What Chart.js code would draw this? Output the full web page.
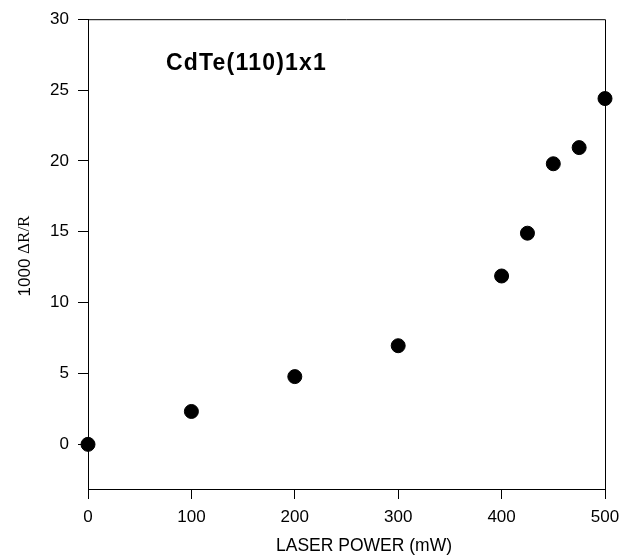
<!DOCTYPE html>
<html><head><meta charset="utf-8">
<script src="https://cdn.jsdelivr.net/npm/chart.js@4.4.1/dist/chart.umd.min.js"></script>
<style>html,body{margin:0;padding:0;background:#fff}#wrap{width:629px;height:558px}</style>
</head><body><div id="wrap"><canvas id="c" width="629" height="558"></canvas></div>
<script>
const laserPower = [0, 100, 200, 300, 400, 425, 450, 475, 500];
const deltaR = [0, 2.32, 4.78, 6.96, 11.88, 14.9, 19.8, 20.94, 24.4];
const yTicks = [0, 5, 10, 15, 20, 25, 30];
const xTicks = [0, 100, 200, 300, 400, 500];
const chartTitle = 'CdTe(110)1x1';
const xTitle = 'LASER POWER (mW)';
const yTitleNum = '1000 ';
const yTitleSym = 'ΔR/R';

const boxPlugin = {
  id: 'box',
  afterDraw(chart) {
    const {ctx, chartArea: a} = chart;
    ctx.save();
    ctx.strokeStyle = '#000';
    ctx.lineWidth = 1;
    ctx.beginPath();
    ctx.moveTo(a.left, a.top + 0.5); ctx.lineTo(a.right + 0.5, a.top + 0.5);
    ctx.lineTo(a.right + 0.5, a.bottom + 10);
    ctx.stroke();
    ctx.fillStyle = '#000';
    ctx.textBaseline = 'middle';
    // inner label
    ctx.font = 'bold 23px "Liberation Sans", Arial, sans-serif';
    ctx.letterSpacing = '1.2px';
    ctx.textAlign = 'left';
    ctx.fillText(chartTitle, a.left + 78, a.top + 44);
    ctx.letterSpacing = '0px';
    // x title
    ctx.font = '17.5px "Liberation Sans", Arial, sans-serif';
    ctx.textAlign = 'center';
    ctx.fillText(xTitle, 364, 546);
    // y title (mixed fonts)
    ctx.translate(25, 256);
    ctx.rotate(-Math.PI / 2);
    const f1 = '17px "Liberation Sans", Arial, sans-serif';
    const f2 = '17px "Liberation Serif", "Times New Roman", serif';
    ctx.font = f1; const w1 = ctx.measureText(yTitleNum).width;
    ctx.font = f2; const w2 = ctx.measureText(yTitleSym).width;
    const start = -(w1 + w2) / 2;
    ctx.textAlign = 'left';
    ctx.font = f1; ctx.fillText(yTitleNum, start, 0);
    ctx.font = f2; ctx.fillText(yTitleSym, start + w1, 0);
    ctx.restore();
  }
};

new Chart(document.getElementById('c'), {
  type: 'scatter',
  data: { datasets: [{
    data: laserPower.map((x, i) => ({x, y: deltaR[i]})),
    backgroundColor: '#000', borderColor: '#000',
    pointRadius: 7, pointHoverRadius: 7, clip: false
  }]},
  options: {
    responsive: false, animation: false,
    layout: { padding: { top: 17, right: 24, left: 0, bottom: 0 } },
    plugins: { legend: { display: false }, tooltip: { enabled: false } },
    scales: {
      x: {
        type: 'linear', min: 0, max: 500,
        afterBuildTicks(s) { s.ticks = xTicks.map(v => ({value: v})); },
        afterFit(s) { s.height = 69; },
        grid: { drawOnChartArea: false, tickLength: 10, color: '#000' },
        border: { color: '#000', width: 1 },
        ticks: { color: '#000', padding: 8, maxRotation: 0,
          font: { family: '"Liberation Sans", Arial, sans-serif', size: 17 } },
        title: { display: false }
      },
      y: {
        type: 'linear', min: -3.15, max: 30,
        afterBuildTicks(s) { s.ticks = yTicks.map(v => ({value: v})); },
        afterFit(s) { s.width = 88; },
        grid: { drawOnChartArea: false, tickLength: 10, color: '#000' },
        border: { color: '#000', width: 1 },
        ticks: { color: '#000', padding: 9,
          font: { family: '"Liberation Sans", Arial, sans-serif', size: 17 } },
        title: { display: false }
      }
    }
  },
  plugins: [boxPlugin]
});
</script></body></html>
